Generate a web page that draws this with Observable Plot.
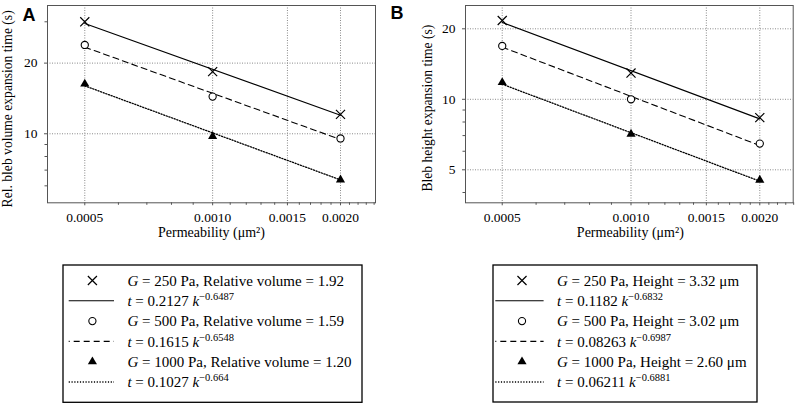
<!DOCTYPE html>
<html>
<head>
<meta charset="utf-8">
<script src="https://cdn.jsdelivr.net/npm/d3@7"></script>
<script src="https://cdn.jsdelivr.net/npm/@observablehq/plot@0.6"></script>
<style>
  body { margin: 0; background: #fff; }
  #root { position: relative; width: 796px; height: 405px; overflow: hidden; background: #fff; }
  .abs { position: absolute; }
</style>
</head>
<body>
<div id="root"></div>
<script>
// ---------- data ----------
const permeability = [0.0005, 0.0010, 0.0020];   // µm²
const fitRange = [0.0005, 0.0020];                // fitted-line end points

// Panel A: relative bleb volume expansion time (s)
const volG250  = [30.0, 18.4, 12.1];
const volG500  = [23.9, 14.4, 9.55];
const volG1000 = [16.3, 9.75, 6.36];
const volFit250  = [29.5, 12.0];
const volFit500  = [23.4, 9.45];
const volFit1000 = [16.0, 6.36];

// Panel B: bleb height expansion time (s)
const hgtG250  = [21.7, 12.95, 8.35];
const hgtG500  = [16.9, 10.0, 6.47];
const hgtG1000 = [11.8, 7.1, 4.52];
const hgtFit250  = [21.3, 8.25];
const hgtFit500  = [16.7, 6.35];
const hgtFit1000 = [11.6, 4.47];

// ticks
const xMajor = [0.0005, 0.0010, 0.0015, 0.0020];
const xMinor = [0.0006, 0.0007, 0.0008, 0.0009, 0.0011, 0.0012, 0.0013, 0.0014,
                0.0016, 0.0017, 0.0018, 0.0019, 0.0021, 0.0022, 0.0023, 0.0024];
const yMajorA = [10, 20];
const yMinorA = [6, 7, 8, 9, 30];
const yMajorB = [5, 10, 20];
const yMinorB = [4, 6, 7, 8, 9];

// legend text
const shearModulus = ["250", "500", "1000"];
const relVolume = ["1.92", "1.59", "1.20"];
const fitCoefA = ["0.2127", "0.1615", "0.1027"];
const fitExpA = ["\u22120.6487", "\u22120.6548", "\u22120.664"];
const bleHeight = ["3.32", "3.02", "2.60"];
const fitCoefB = ["0.1182", "0.08263", "0.06211"];
const fitExpB = ["\u22120.6832", "\u22120.6987", "\u22120.6881"];

// ---------- styling ----------
const SERIF = "Liberation Serif, Times New Roman, serif";
const SANS = "Liberation Sans, Arial, sans-serif";
const styles = [
  {symbol: "times", r: 4.2, fill: "none", stroke: "#000", sw: 1.2, dash: null},
  {symbol: "circle", r: 3.6, fill: "#fff", stroke: "#000", sw: 1.1, dash: "6,4"},
  {symbol: "triangle", r: 3.4, fill: "#000", stroke: "none", sw: 0, dash: "1.2,1.6"}
];

function panel(cfg) {
  const marks = [
    Plot.gridX({ticks: xMajor, stroke: "#8a8a8a", strokeOpacity: 1, strokeWidth: 1, strokeDasharray: "1,1.5"}),
    Plot.gridY({ticks: cfg.yMajor, stroke: "#8a8a8a", strokeOpacity: 1, strokeWidth: 1, strokeDasharray: "1,1.5"}),
    Plot.frame({stroke: "#555", strokeWidth: 1}),
    Plot.axisX({ticks: xMajor, tickFormat: d3.format(".4f"), tickSize: 3, tickPadding: 7, label: null,
                stroke: "#555", fill: "#000", fontSize: 13.5, fontFamily: SERIF}),
    Plot.axisX({ticks: xMinor, tickFormat: () => "", tickSize: 2.5, label: null, stroke: "#555"}),
    Plot.axisY({ticks: cfg.yMajor, tickFormat: d3.format("d"), tickSize: 3, tickPadding: 7, label: null,
                stroke: "#555", fill: "#000", fontSize: 13.5, fontFamily: SERIF}),
    Plot.axisY({ticks: cfg.yMinor, tickFormat: () => "", tickSize: 2.5, label: null, stroke: "#555"})
  ];
  cfg.fits.forEach((fit, i) => {
    const s = styles[i];
    marks.push(Plot.line(fitRange.map((k, j) => ({k, t: fit[j]})), {
      x: "k", y: "t", stroke: "#000", strokeWidth: i === 2 ? 1.3 : 1.1,
      strokeDasharray: s.dash || undefined
    }));
  });
  cfg.series.forEach((vals, i) => {
    const s = styles[i];
    marks.push(Plot.dot(permeability.map((k, j) => ({k, t: vals[j]})), {
      x: "k", y: "t", symbol: s.symbol, r: s.r, fill: s.fill, stroke: s.stroke, strokeWidth: s.sw
    }));
  });
  marks.push(
    Plot.text([cfg.yTitle], {text: d => d, frameAnchor: "left", textAnchor: "middle", rotate: -90,
      dx: cfg.yTitleDx, dy: cfg.yTitleDy, fontSize: 13.6, fontFamily: SERIF, fill: "#000"}),
    Plot.text(["Permeability (\u03bcm\u00b2)"], {text: d => d, frameAnchor: "bottom", textAnchor: "middle",
      dx: cfg.xTitleDx, dy: 34, fontSize: 14, fontFamily: SERIF, fill: "#000"}),
    Plot.text([cfg.letter], {text: d => d, frameAnchor: "top-left", dx: cfg.letterDx, dy: cfg.letterDy,
      lineAnchor: "top", textAnchor: "middle", fontSize: 18, fontWeight: "bold", fontFamily: SANS, fill: "#000"})
  );
  return Plot.plot({
    width: cfg.width, height: 250,
    marginLeft: cfg.marginLeft, marginRight: cfg.marginRight, marginTop: 5, marginBottom: 47.7,
    style: {fontFamily: SERIF, fontSize: "14px", color: "#000", background: "transparent", overflow: "visible"},
    x: {type: "log", domain: cfg.xDomain},
    y: {type: "log", domain: cfg.yDomain},
    marks
  });
}

const root = document.getElementById("root");

const svgA = panel({
  width: 385, marginLeft: 47, marginRight: 10,
  xDomain: [0.0004085, 0.002418], yDomain: [5.08, 35.2],
  yMajor: yMajorA, yMinor: yMinorA,
  series: [volG250, volG500, volG1000], fits: [volFit250, volFit500, volFit1000],
  yTitle: "Rel. bleb volume expansion time (s)", yTitleDx: -39.5, yTitleDy: 4.7, xTitleDx: 0,
  letter: "A", letterDx: -18.5, letterDy: 2.5
});
svgA.classList.add("abs");
svgA.style.left = "0px"; svgA.style.top = "0px";
root.appendChild(svgA);

const svgB = panel({
  width: 416, marginLeft: 85, marginRight: 3.3,
  xDomain: [0.0004103, 0.002394], yDomain: [3.615, 25.15],
  yMajor: yMajorB, yMinor: yMinorB,
  series: [hgtG250, hgtG500, hgtG1000], fits: [hgtFit250, hgtFit500, hgtFit1000],
  yTitle: "Bleb height expansion time (s)", yTitleDx: -37.5, yTitleDy: 4, xTitleDx: 1,
  letter: "B", letterDx: -68.5, letterDy: 1
});
svgB.classList.add("abs");
svgB.style.left = "380px"; svgB.style.top = "0px";
root.appendChild(svgB);

// ---------- legends ----------
function legend(cfg) {
  const W = cfg.width, H = cfg.height;
  const svg = d3.create("svg").attr("width", W + 2).attr("height", H + 2)
    .attr("class", "abs").style("left", (cfg.left - 1) + "px").style("top", (cfg.top - 1) + "px")
    .attr("font-family", SERIF).attr("font-size", 15);
  svg.append("rect").attr("x", 1).attr("y", 1).attr("width", W).attr("height", H)
    .attr("fill", "#fff").attr("stroke", "#000").attr("stroke-width", 1.3);
  const g = svg.append("g").attr("transform", "translate(1,1)");
  for (let i = 0; i < 3; i++) {
    const s = styles[i];
    const ySym = 15.5 + 20.3 * (2 * i);
    const yLine = 15.5 + 20.3 * (2 * i + 1);
    g.append("path")
      .attr("d", d3.symbol(s.symbol === "times" ? d3.symbolTimes : s.symbol === "circle" ? d3.symbolCircle : d3.symbolTriangle,
                           Math.PI * s.r * s.r)())
      .attr("transform", `translate(${cfg.symX},${ySym})`)
      .attr("fill", s.fill).attr("stroke", s.stroke).attr("stroke-width", s.sw);
    const ln = g.append("line").attr("x1", cfg.lineX0).attr("x2", cfg.lineX1)
      .attr("y1", yLine).attr("y2", yLine).attr("stroke", "#000").attr("stroke-width", i === 2 ? 1.3 : 1.1);
    if (s.dash) ln.attr("stroke-dasharray", s.dash).attr("stroke-dashoffset", i === 1 ? 5 : 0);

    const t1 = g.append("text").attr("x", cfg.textX).attr("y", ySym + 5.1);
    t1.append("tspan").attr("font-style", "italic").text("G");
    t1.append("tspan").text(cfg.rowText(i));
    const t2 = g.append("text").attr("x", cfg.textX).attr("y", yLine + 5.1);
    t2.append("tspan").attr("font-style", "italic").text("t");
    t2.append("tspan").text(" = " + cfg.coef[i] + " ");
    t2.append("tspan").attr("font-style", "italic").text("k");
    t2.append("tspan").attr("font-size", 10.5).attr("dy", -6).text(cfg.exp[i]);
  }
  root.appendChild(svg.node());
}

legend({
  left: 63.3, top: 264.7, width: 299, height: 137.3,
  symX: 29.4, lineX0: 5.7, lineX1: 51, textX: 64.4,
  rowText: i => ` = ${shearModulus[i]} Pa, Relative volume = ${relVolume[i]}`,
  coef: fitCoefA, exp: fitExpA
});
legend({
  left: 492.7, top: 265, width: 264, height: 137,
  symX: 29, lineX0: 2.3, lineX1: 50.6, textX: 64,
  rowText: i => ` = ${shearModulus[i]} Pa, Height = ${bleHeight[i]} \u03bcm`,
  coef: fitCoefB, exp: fitExpB
});
</script>
</body>
</html>
